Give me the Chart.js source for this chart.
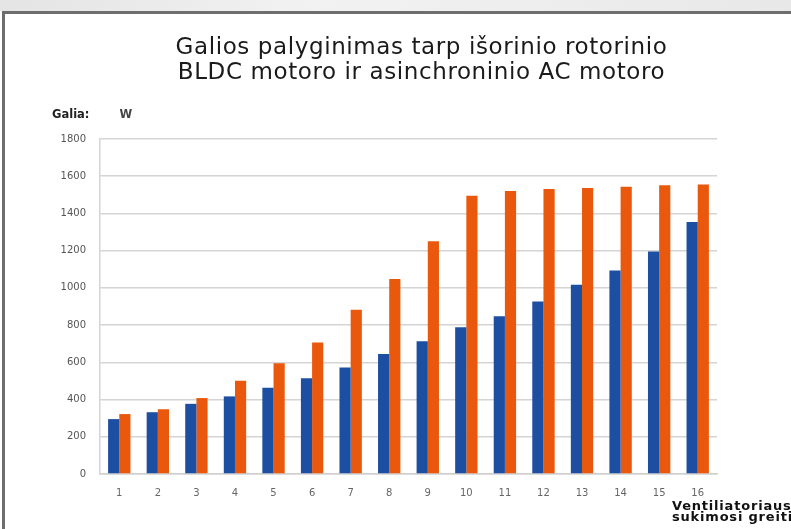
<!DOCTYPE html>
<html>
<head>
<meta charset="utf-8">
<script src="https://cdn.jsdelivr.net/npm/chart.js@4.4.1/dist/chart.umd.min.js"></script>
<style>
  html, body { margin: 0; padding: 0; }
  body { width: 791px; height: 529px; position: relative; overflow: hidden; background: #fff; font-family: "DejaVu Sans", sans-serif; }
  #strip { position: absolute; left: 0; top: 0; width: 791px; height: 11px; background: linear-gradient(90deg, #e4e4e4, #f2f2f2 40%, #e8e8e8); }
  #frame { position: absolute; left: 2px; top: 11px; width: 800px; height: 530px; border-top: 3px solid #6e6e6e; border-left: 3px solid #6e6e6e; box-sizing: border-box; }
  #wrap { position: absolute; left: 0; top: 0; width: 791px; height: 529px; }
  .title { position: absolute; left: 0; width: 843px; text-align: center; font-size: 23px; line-height: 27px; color: #1a1a1a; letter-spacing: 0.6px; white-space: nowrap; }
  #unit { position: absolute; left: 52px; top: 107px; font-size: 11.5px; font-weight: bold; color: #222; }
  #unit span { margin-left: 30px; color: #444; }
  #xname { position: absolute; left: 672px; top: 500px; font-size: 13px; font-weight: bold; line-height: 11px; letter-spacing: 0.8px; color: #111; white-space: nowrap; }
</style>
</head>
<body>
<div id="strip"></div>
<div id="frame"></div>
<div id="wrap"><canvas id="chart" width="791" height="529"></canvas></div>
<div class="title" style="top:33px">Galios palyginimas tarp išorinio rotorinio</div>
<div class="title" style="top:58px">BLDC motoro ir asinchroninio AC motoro</div>
<div id="unit">Galia:<span>W</span></div>
<div id="xname">Ventiliatoriaus<br>sukimosi greitis</div>

<script>
// duomenys
const greitis = ["1","2","3","4","5","6","7","8","9","10","11","12","13","14","15","16"];
const bldc = [295, 332, 377, 417, 464, 514, 572, 645, 713, 788, 847, 927, 1017, 1094, 1196, 1354];
const acMotor = [322, 348, 408, 501, 595, 706, 883, 1048, 1250, 1495, 1521, 1531, 1537, 1544, 1551, 1556];
const yTicks = [0, 200, 400, 600, 800, 1000, 1200, 1400, 1600, 1800];

Chart.defaults.font.family = "'DejaVu Sans', sans-serif";

new Chart(document.getElementById("chart"), {
    type: 'bar',
    data: {
        labels: greitis,
        datasets: [
            { label: 'BLDC', data: bldc, backgroundColor: '#1c4ea2' },
            { label: 'AC', data: acMotor, backgroundColor: '#e9580c' }
        ]
    },
    options: {
        responsive: false,
        animation: false,
        layout: { padding: { top: 139, right: 74, left: 0, bottom: 0 } },
        datasets: { bar: { categoryPercentage: 0.58, barPercentage: 1.0 } },
        plugins: { legend: { display: false }, tooltip: { enabled: false } },
        scales: {
            x: {
                grid: { display: false, drawTicks: false },
                border: { display: true, color: '#cfcfcf', width: 1.5 },
                ticks: { color: '#666', font: { size: 10 }, padding: 13 },
                afterFit: s => { s.height = 55; }
            },
            y: {
                min: 0, max: 1800,
                afterBuildTicks: s => { s.ticks = yTicks.map(v => ({ value: v })); },
                grid: { color: '#d4d4d4', lineWidth: 1.5, drawTicks: false },
                border: { display: true, color: '#d4d4d4', width: 1.5 },
                ticks: { color: '#555', font: { size: 10 }, padding: 14, callback: v => String(v) },
                afterFit: s => { s.width = 100; }
            }
        }
    }
});
</script>
</body>
</html>
